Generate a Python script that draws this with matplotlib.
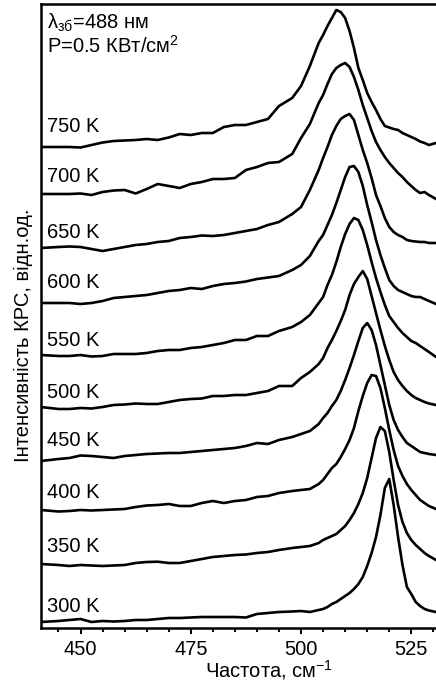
import matplotlib
matplotlib.use("Agg")
import matplotlib.pyplot as plt
from matplotlib.ticker import MultipleLocator

plt.rcParams['font.family'] = ['Liberation Sans', 'DejaVu Sans']
plt.rcParams['mathtext.fontset'] = 'custom'
plt.rcParams['mathtext.rm'] = 'Liberation Sans'
plt.rcParams['mathtext.it'] = 'Liberation Sans:italic'
plt.rcParams['mathtext.bf'] = 'Liberation Sans:bold'

# Raman shift, cm^-1
wavenumber = [441, 445, 447.5, 450, 452.5, 455, 457.5, 460, 462.5, 465, 467.5,
              470, 472.5, 475, 477.5, 480, 482.5, 485, 487.5, 490, 492.5, 495,
              498, 500, 502, 504,
              505, 506, 507, 508, 509, 510, 511, 512, 513, 514, 515, 516, 517,
              518, 519, 520, 521, 522, 523, 524, 525, 526, 527, 528, 529,
              530.6]

temperatures = [300, 350, 400, 450, 500, 550, 600, 650, 700, 750]

# Raman intensity, arb. units
i_300K = [6, 7, 8, 9, 6, 7, 6.5, 7, 8, 8, 9,
          10, 10, 10.5, 11, 11, 11, 11, 10.5, 14, 15, 16,
          16.5, 17, 16, 18,
          19, 21, 24, 26, 29, 32, 35, 39, 44, 51, 62, 75, 91, 113, 140, 149,
          123, 91, 63, 41, 34, 26, 22, 19, 17.5,
          16]
i_350K = [11, 10, 9, 10, 9.5, 9, 9.5, 10, 12, 13, 13.3,
          12, 12, 14, 16, 18, 19, 20, 20.5, 22, 23, 25,
          27, 28, 29, 32,
          35, 37, 39, 41, 45, 49, 55, 62, 71, 82, 97, 117, 137, 148, 144, 123,
          95, 70, 53, 42, 35, 30, 26, 22, 19,
          15]
i_400K = [12, 10.5, 11, 12, 11.5, 12, 12.5, 13, 15, 16.5, 17,
          18, 16, 16, 19, 21, 19, 21, 22, 25, 26, 29,
          31, 32, 33, 38,
          42, 48, 54, 58, 65, 73, 82, 94, 111, 126, 139, 147, 146, 134, 114, 92,
          72, 56, 46, 38, 32, 27, 22, 19, 16,
          13]
i_450K = [8, 10, 11, 13.5, 13, 12, 11, 13, 14, 15, 15.5,
          16, 16, 17, 18, 19, 20, 21, 23, 26, 25, 29,
          32, 35, 38, 45,
          51, 56, 63, 69, 78, 89, 101, 114, 128, 141, 146, 139, 124, 104, 84, 64,
          49, 39, 32, 26, 23, 20, 17, 16, 15,
          14]
i_500K = [9, 7, 7, 8, 7.5, 9, 11, 11.5, 12.5, 12, 12,
          14, 16, 17, 17.5, 20, 20, 21, 21, 23, 25, 30,
          30, 38, 44, 52,
          58, 68, 76, 85, 95, 106, 121, 132, 139, 145, 137, 120, 103, 86, 70, 56,
          44, 36, 30, 25, 21, 18, 16, 14, 12.5,
          11]
i_550K = [8, 7, 7, 8, 6.5, 7, 9, 9, 9, 10, 12,
          13, 13, 15, 16, 18, 20, 23, 23, 27, 27, 32,
          36, 41, 48, 60,
          66, 78, 88, 101, 116, 129, 139, 145, 143, 133, 118, 101, 85, 71, 58, 47,
          41, 35, 30, 26, 22, 20, 17, 14, 11,
          6]
i_600K = [7, 7, 7, 6, 7, 9, 12, 13, 14, 15, 17,
          19, 20, 22, 21, 24, 26, 27, 28.5, 31, 32.5, 34,
          40, 45, 54, 69,
          75, 85, 95, 107, 120, 133, 143, 144, 138, 124, 105, 88, 70, 55, 42, 30,
          24, 20, 18, 16, 14, 13, 13, 11, 9,
          6]
i_650K = [9, 10, 10.5, 10, 8, 6, 8, 10, 12, 13, 15,
          16, 19, 20, 21.5, 21, 22, 24, 26, 28, 32, 35,
          43, 50, 67, 87,
          99, 110, 122, 131, 138, 141, 143, 137, 122, 107, 94, 79, 62, 51, 39, 30,
          25, 22, 20, 17, 16, 15.5, 15, 15, 14,
          14]
i_700K = [10, 10, 10, 10.5, 9, 12, 13.5, 14, 10.5, 15, 20,
          18, 16, 20, 22, 25, 25, 26, 34, 37, 41, 42,
          50, 66, 80, 101,
          109, 120, 130, 136, 139, 141, 137, 127, 114, 99, 86, 73, 62, 54, 47, 41,
          36, 31, 27, 22, 18, 14, 11, 12, 9,
          5]
i_750K = [4, 4, 4, 3.5, 6, 8.5, 10, 10.5, 11, 12, 11,
          13.5, 17, 16, 18, 18, 24, 26, 26, 29, 32, 45,
          53, 65, 85, 108,
          116, 125, 133, 141, 139, 133, 120, 103, 83, 71, 58, 49, 41, 32, 25, 23.5,
          22, 21, 18, 16, 14, 12, 9.5, 8, 6,
          8]

spectra = [i_300K, i_350K, i_400K, i_450K, i_500K,
           i_550K, i_600K, i_650K, i_700K, i_750K]

STEP = 53.0          # vertical shift between neighbouring spectra
LABEL_RISE = [21, 28, 30, 28, 24, 22, 27, 24, 28, 24]   # label height above each shifted spectrum
FS = 14.5

fig = plt.figure(figsize=(4.36, 6.84), dpi=100)
ax = fig.add_axes([41 / 436, 56 / 684, 395 / 436, 624 / 684])

for k, (T, s) in enumerate(zip(temperatures, spectra)):
    off = k * STEP
    ax.plot(wavenumber, [v + off for v in s], color='black', lw=1.9,
            solid_joinstyle='round', solid_capstyle='round')
    ax.text(442.4, off + LABEL_RISE[k], f"{T} K", fontsize=FS,
            va='center', ha='left')

ax.text(442.4, 599, r"$\mathregular{\lambda_{зб}}$=488 нм", fontsize=FS,
        va='baseline', ha='left')
ax.text(442.4, 575, r"P=0.5 КВт/см$\mathregular{^2}$", fontsize=FS,
        va='baseline', ha='left')

ax.set_xlim(441.04, 530.6)
ax.set_ylim(0, 624)
ax.set_yticks([])
ax.set_xticks([450, 475, 500, 525])
ax.xaxis.set_minor_locator(MultipleLocator(5))
ax.tick_params(axis='x', which='major', direction='out', length=4.5, width=1.4,
               labelsize=FS, pad=4)
ax.tick_params(axis='x', which='minor', direction='out', length=3.2, width=1.4)
ax.spines['right'].set_visible(False)
for sp in ('left', 'top', 'bottom'):
    ax.spines[sp].set_linewidth(1.8)

fig.text(269 / 436, 1 - 670 / 684, r"Частота, см$\mathregular{^{-1}}$",
         fontsize=FS, ha='center', va='center')
fig.text(23 / 436, 1 - 335 / 684, "Інтенсивність КРС, відн.од.",
         fontsize=FS, rotation=90, ha='center', va='center')

fig.savefig("out.png", dpi=100)
